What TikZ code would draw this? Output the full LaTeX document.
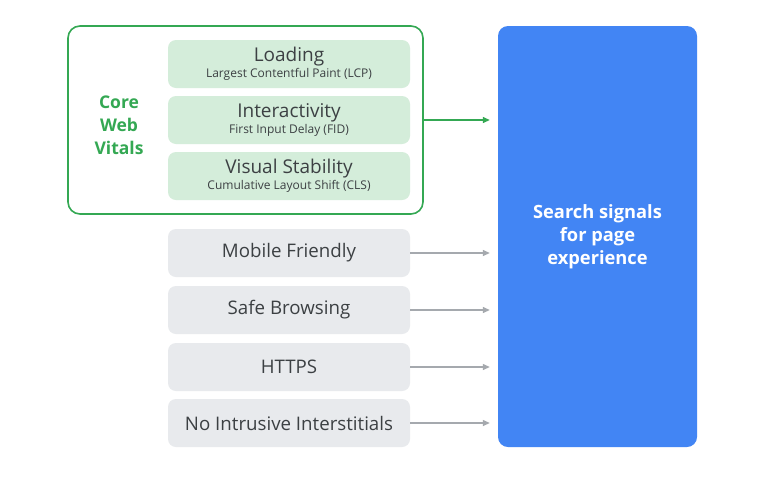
\documentclass[tikz,border=0pt]{standalone}
\usepackage{fontspec}
\setmainfont{Open Sans}
\usetikzlibrary{arrows.meta}
\definecolor{vitalgreen}{RGB}{52, 168, 83}
\definecolor{vitalfill}{RGB}{212, 237, 218}
\definecolor{signalgray}{RGB}{232, 234, 237}
\definecolor{arrowgray}{RGB}{165, 169, 174}
\definecolor{pageblue}{RGB}{66, 133, 244}
\definecolor{inktext}{RGB}{60, 64, 67}

\tikzset{
  vitalbox/.style={fill=vitalfill, rounded corners=8pt, minimum width=242pt, minimum height=48pt, inner sep=0pt, align=center, text=inktext},
  signalbox/.style={fill=signalgray, rounded corners=8pt, minimum width=242pt, minimum height=48pt, inner sep=0pt, text=inktext, font=\fontsize{18.7}{22}\selectfont},
  feed/.style={-{Triangle[length=7pt,width=6pt]}, line width=1.3pt},
}
\newcommand{\vitaltext}[2]{{\fontsize{19}{20}\selectfont #1}\\[1.5pt]{\fontsize{12}{14}\selectfont #2}}

\begin{document}
\begin{tikzpicture}[x=1pt, y=-1pt]
    \useasboundingbox[fill=white] (0,0) rectangle (775,477);

    % Core Web Vitals frame
    \draw[vitalgreen, line width=1.6pt, rounded corners=12pt] (68,26) rectangle (423,214);
    \coordinate (frameout) at (423,120);
    \node[text=vitalgreen, align=center, font=\bfseries\fontsize{17.5}{23}\selectfont] (core) at (119,125) {Core\\Web\\Vitals};

    % Vitals
    \node[vitalbox] (loading) at (289,64) {\vitaltext{Loading}{Largest Contentful Paint (LCP)}};
    \node[vitalbox] (interact) at (289,120) {\vitaltext{Interactivity}{First Input Delay (FID)}};
    \node[vitalbox] (visual) at (289,176) {\vitaltext{Visual Stability}{Cumulative Layout Shift (CLS)}};

    % Other signals
    \node[signalbox] (mobile) at (289,253) {Mobile Friendly};
    \node[signalbox] (safe) at (289,310) {Safe Browsing};
    \node[signalbox] (https) at (289,367) {HTTPS};
    \node[signalbox] (nointr) at (289,423) {No Intrusive Interstitials};

    % Page experience
    \node[fill=pageblue, rounded corners=10pt, minimum width=199pt, minimum height=421pt, inner sep=0pt,
          text=white, align=center, font=\bfseries\fontsize{18.3}{23}\selectfont] (page) at (597.5,236.5) {Search signals\\for page\\experience};

    % Arrows
    \draw[feed, vitalgreen] (frameout) -- ([xshift=-8pt]frameout -| page.west);
    \foreach \s in {mobile, safe, https, nointr}
        \draw[feed, arrowgray] (\s.east) -- ([xshift=-8pt]\s.east -| page.west);
\end{tikzpicture}
\end{document}
